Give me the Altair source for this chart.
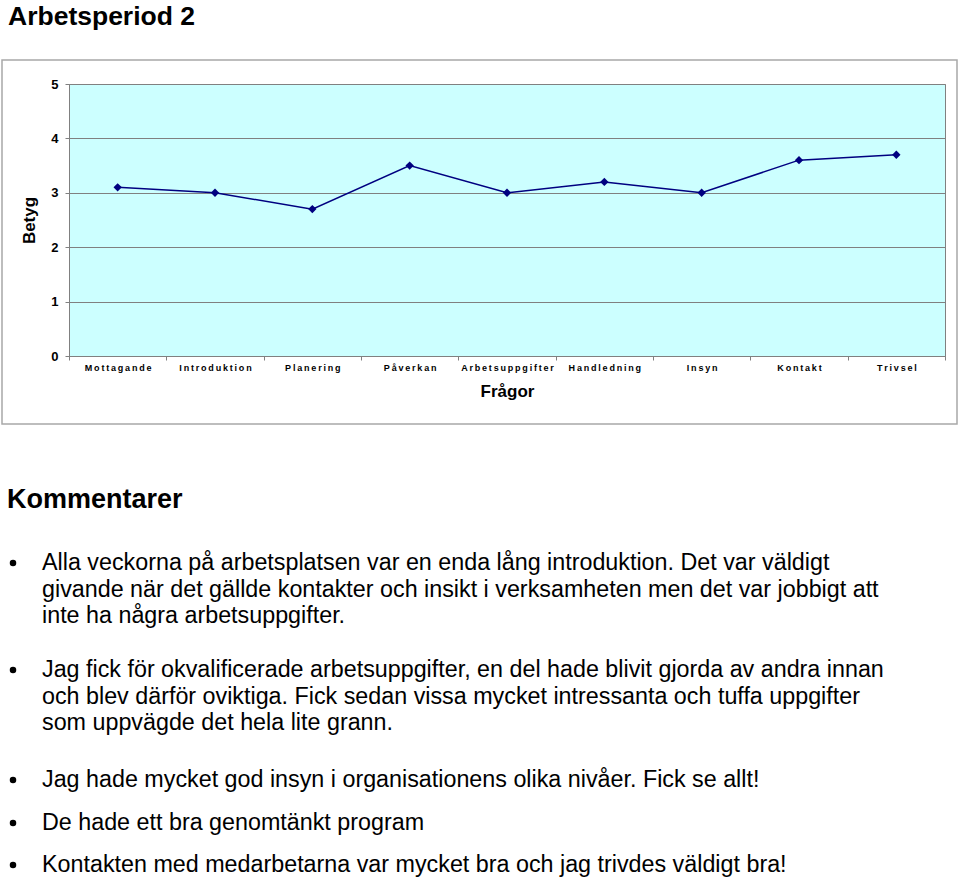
import altair as alt
import pandas as pd

# ---------------- data ----------------
questions = ["Mottagande", "Introduktion", "Planering", "Påverkan", "Arbetsuppgifter",
             "Handledning", "Insyn", "Kontakt", "Trivsel"]
scores = [3.1, 3.0, 2.7, 3.5, 3.0, 3.2, 3.0, 3.6, 3.7]
y_ticks = [0, 1, 2, 3, 4, 5]

page_title = "Arbetsperiod 2"
comments_heading = "Kommentarer"
comments = [
    ["Alla veckorna på arbetsplatsen var en enda lång introduktion. Det var väldigt",
     "givande när det gällde kontakter och insikt i verksamheten men det var jobbigt att",
     "inte ha några arbetsuppgifter."],
    ["Jag fick för okvalificerade arbetsuppgifter, en del hade blivit gjorda av andra innan",
     "och blev därför oviktiga. Fick sedan vissa mycket intressanta och tuffa uppgifter",
     "som uppvägde det hela lite grann."],
    ["Jag hade mycket god insyn i organisationens olika nivåer. Fick se allt!"],
    ["De hade ett bra genomtänkt program"],
    ["Kontakten med medarbetarna var mycket bra och jag trivdes väldigt bra!"],
]

# ---------------- layout (pixels, relative to plot origin) ----------------
FONT = "Liberation Sans, Arial, Helvetica, sans-serif"
W, H = 876, 272
PAD = {"left": 69, "top": 84, "right": 15, "bottom": 525}
para_baselines = [486, 593, 703, 746, 788]
LINE_STEP = 26.5

df = pd.DataFrame({"Fråga": questions, "Betyg": scores})
base = alt.Chart(df)

x_enc = alt.X(
    "Fråga:N", sort=questions,
    scale=alt.Scale(type="band", paddingInner=0, paddingOuter=0),
    axis=alt.Axis(
        title="Frågor", labelAngle=0, labelFontSize=9, labelFontWeight="bold",
        labelExpr="join(split(datum.label, ''), '\u2009')",
        tickBand="extent", tickSize=4, labelPadding=3, grid=False,
        titleFontSize=17, titleFontWeight="bold", titlePadding=11,
    ),
)
y_enc = alt.Y(
    "Betyg:Q",
    scale=alt.Scale(domain=[0, 5], nice=False),
    axis=alt.Axis(
        values=y_ticks, title="Betyg", labelFontSize=13, labelFontWeight="bold",
        tickSize=4, labelPadding=7, titleFontSize=17, titleFontWeight="bold",
        titlePadding=12, format="d",
    ),
)

line = base.mark_line(color="#000080", strokeWidth=1.5).encode(x=x_enc, y=y_enc)
pts = base.mark_point(shape="diamond", filled=True, size=70, color="#000080",
                      opacity=1).encode(x=x_enc, y=y_enc)

one = pd.DataFrame({"t": [""]})
frame = alt.Chart(one).mark_rect(fill="transparent", stroke="#A8A8A8",
                                 strokeWidth=1.5).encode(
    x=alt.value(-67), x2=alt.value(888), y=alt.value(-24), y2=alt.value(340))

layers = [frame, line, pts]

def txt(s, x, y, size, weight="normal"):
    return alt.Chart(pd.DataFrame({"t": [s]})).mark_text(
        align="left", baseline="alphabetic", font=FONT, fontSize=size,
        fontWeight=weight, color="black").encode(
        text="t:N", x=alt.value(x), y=alt.value(y))

layers.append(txt(page_title, -61, -59, 26.5, "bold"))
layers.append(txt(comments_heading, -62, 424, 27, "bold"))

for p, para in enumerate(comments):
    y0 = para_baselines[p]
    layers.append(alt.Chart(pd.DataFrame({"t": [""]})).mark_circle(
        size=42, color="black", opacity=1).encode(x=alt.value(-56), y=alt.value(y0 - 7)))
    for i, ln in enumerate(para):
        layers.append(txt(ln, -27, y0 + i * LINE_STEP, 23.3))

chart = alt.layer(*layers).properties(
    width=W, height=H,
    autosize=alt.AutoSizeParams(type="none"),
    padding=PAD,
    background="white",
).configure_view(
    fill="#CCFFFF", stroke="#808080", strokeWidth=1,
).configure_axis(
    gridColor="#808080", gridWidth=1, domainColor="#808080", tickColor="#808080",
    labelColor="black", titleColor="black", labelFont=FONT, titleFont=FONT,
)

chart.save("out.html", embed_options={"renderer": "svg", "actions": False})
